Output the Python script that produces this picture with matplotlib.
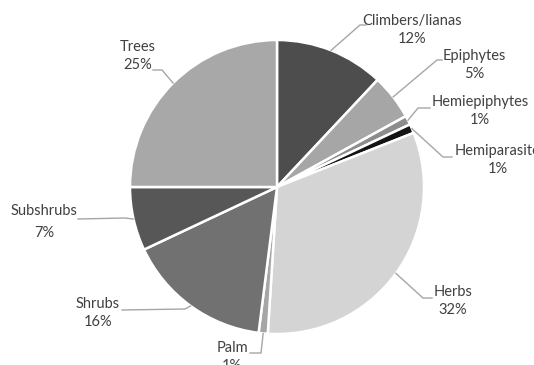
import matplotlib.pyplot as plt
import numpy as np

W, H = 534, 365

labels = ['Climbers/lianas', 'Epiphytes', 'Hemiepiphytes', 'Hemiparasite',
          'Herbs', 'Palm', 'Shrubs', 'Subshrubs', 'Trees']
shares = [12, 5, 1, 1, 32, 1, 16, 7, 25]
colors = ['#4d4d4d', '#a6a6a6', '#8c8c8c', '#141414', '#d4d4d4',
          '#a6a6a6', '#717171', '#575757', '#a8a8a8']

# label centres and leader knee/end points, in pixels from the top-left
text_xy = [(412, 30), (474, 65), (480, 111), (498, 160), (453, 301),
           (232, 357), (98, 313), (44, 222), (138, 56)]
knee_xy = [(360, 25), (437, 60), (418, 108), (443, 157), (423, 298),
           (261, 353), (185, 309), (125, 218), (162, 70)]
end_xy = [(366, 25), (442, 60), (430, 108), (452, 157), (432, 298),
          (250, 353), (122, 310), (78, 219), (153, 70)]
# extra spacing between name and percentage
spacing = [1.3, 1.3, 1.3, 1.3, 1.3, 1.3, 1.3, 1.7, 1.3]

cx, cy, r = 277, 187, 147

fig = plt.figure(figsize=(W / 100, H / 100), dpi=100)
ax = fig.add_axes([0, 0, 1, 1])

ax.pie(shares, colors=colors, startangle=90, counterclock=False,
       center=(cx, H - cy), radius=r,
       wedgeprops=dict(edgecolor='white', linewidth=1.8))
ax.set_xlim(0, W)
ax.set_ylim(0, H)
ax.set_aspect('equal')
ax.axis('off')

total = sum(shares)
cum = np.cumsum([0] + shares[:-1])
for i, lab in enumerate(labels):
    ang = np.deg2rad((cum[i] + shares[i] / 2) / total * 360)
    sx = cx + r * np.sin(ang)
    sy = cy - r * np.cos(ang)
    xs = [sx, knee_xy[i][0], end_xy[i][0]]
    ys = [H - sy, H - knee_xy[i][1], H - end_xy[i][1]]
    ax.plot(xs, ys, color='#a6a6a6', lw=1.0, solid_joinstyle='miter')
    pct = f'{shares[i] / total * 100:.0f}%'
    ax.text(text_xy[i][0], H - text_xy[i][1], f'{lab}\n{pct}',
            ha='center', va='center', multialignment='center',
            fontsize=10.5, family='Lato', color='#404040',
            linespacing=spacing[i])

fig.savefig('out.png', dpi=100)
